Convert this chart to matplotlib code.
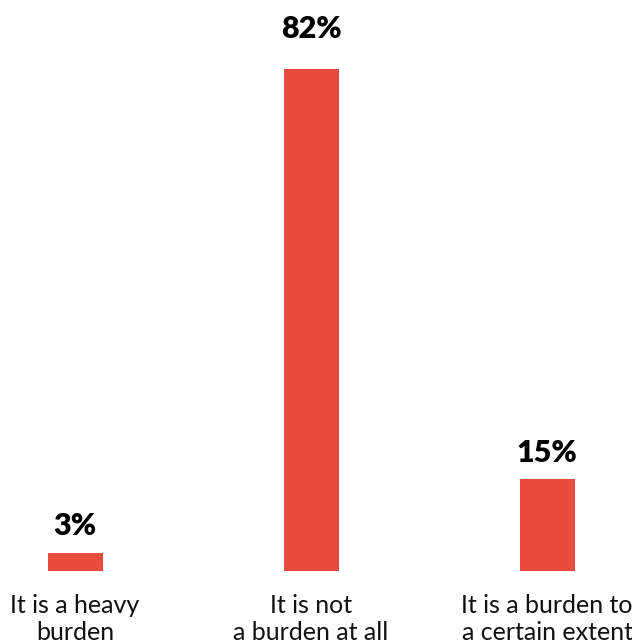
import matplotlib
matplotlib.use("Agg")
import matplotlib.pyplot as plt

categories = ["It is a heavy\nburden", "It is not\na burden at all", "It is a burden to\na certain extent"]
values = [3, 82, 15]
value_labels = ["3%", "82%", "15%"]

color = "#E84C3D"

fig = plt.figure(figsize=(6.32, 6.43), dpi=100)
ax = fig.add_axes([0, 0, 1, 1])
x = list(range(len(values)))
ax.bar(x, values, width=0.233, color=color)
ax.set_xlim(-0.318, 2.36)
ax.set_ylim(-11.76, 93.27)
ax.axis("off")

vmax = max(values)
for xi, v, lab in zip(x, values, value_labels):
    off = 22.5 if v == vmax else 12.5
    ax.annotate(lab, xy=(xi, v), xytext=(0, off), textcoords="offset points",
                ha="center", va="baseline", fontsize=22, fontweight="heavy",
                family="Lato", color="black")

for xi, cat in zip(x, categories):
    ax.annotate(cat, xy=(xi, 0), xytext=(0, -49.5), textcoords="offset points",
                ha="center", va="baseline", fontsize=18, family="Lato",
                color="#111111", linespacing=1.18)

fig.savefig("out.png", dpi=100)
